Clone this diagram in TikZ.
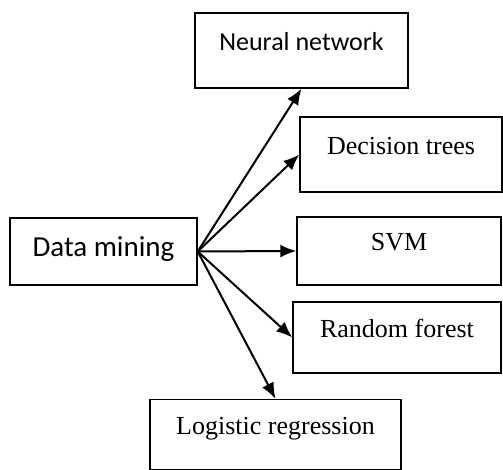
\documentclass[tikz,border=0pt]{standalone}
\usepackage{fontspec}
\setmainfont{Liberation Serif}
\newfontfamily\calibri{Carlito}
\usetikzlibrary{arrows.meta}
\tikzset{
    box/.style={draw, line width=0.7pt, inner sep=0pt, text height=0pt, text depth=0pt,
        font=\fontsize{13}{15}\selectfont},
    arr/.style={-{Latex[length=8pt,width=6.5pt]}, line width=1pt},
}

\begin{document}
\begin{tikzpicture}[x=0.5pt,y=0.5pt]
\useasboundingbox (0,0) rectangle (503,470);
\node[box, minimum width=93.5pt, minimum height=33.5pt, text height=5pt, font=\calibri\fontsize{14.5}{16}\selectfont] (dm) at (103.5,218.5) {Data mining};
\node[box, minimum width=106.5pt, minimum height=37.5pt, font=\calibri\fontsize{13}{15}\selectfont] (nn) at (301.5,419.5) {Neural network};
\node[box, minimum width=101pt, minimum height=37.5pt] (dt) at (401,315.5) {Decision trees};
\node[box, minimum width=102pt, minimum height=34pt] (svm) at (399,219) {SVM};
\node[box, minimum width=104pt, minimum height=35.5pt] (rf) at (397,132.5) {Random forest};
\node[box, minimum width=125.5pt, minimum height=35pt] (lr) at (275.5,35.5) {Logistic regression};
\draw[arr] (dm.east) -- (nn.south);
\draw[arr] (dm.east) -- (dt.west);
\draw[arr] (dm.east) -- (svm.west);
\draw[arr] (dm.east) -- (rf.west);
\draw[arr] (dm.east) -- (lr.north);
\end{tikzpicture}
\end{document}
